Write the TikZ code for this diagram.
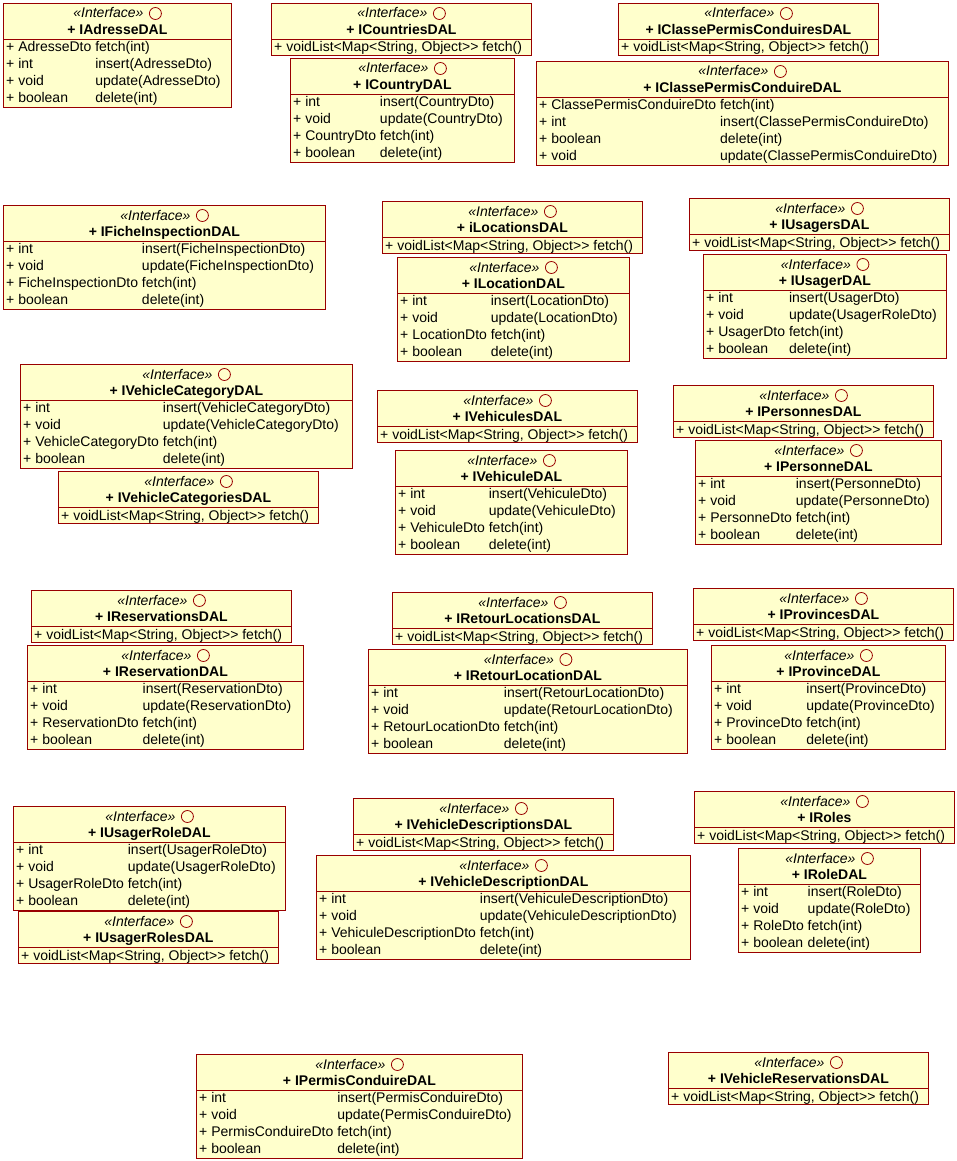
\documentclass[tikz,border=0pt]{standalone}
\usepackage{fontspec}
\setmainfont{Liberation Sans}
\usetikzlibrary{positioning, calc}
\definecolor{umlfill}{RGB}{255,255,204}
\definecolor{umlline}{RGB}{153,0,0}
\newcommand{\umlfont}{\fontsize{14}{17}\selectfont}

% box with header: name, x, y, width, height, title
\newcommand{\umlbox}[6]{%
  \node[box, minimum width=#4, minimum height=#5] (#1) at (#2,#3) {};
  \node[stereo] (#1-st) at ($(#1.north)+(-9,15)$) {«Interface»};
  \draw[ring] ($(#1.north)+(38,10.5)$) circle (6);
  \node[title] (#1-t) at ($(#1.north)+(0,31.5)$) {+ #6};
  \draw[sep] ($(#1.north west)+(0,36)$) -- ($(#1.north east)+(0,36)$);
}
% interface with the four crud methods
\newcommand{\dalbox}[6]{%
  \umlbox{#1}{#2}{#3}{#4}{104}{#5}
  \node[members] (#1-m) at ($(#1.north west)+(3,36.5)$)
    {\begin{tabular}{@{}l@{\ }l@{}}#6\end{tabular}};
}
% interface with only the list fetch
\newcommand{\listbox}[4]{%
  \umlbox{#1}{#2}{#3}{260}{52}{#4}
  \node[members, anchor=base west] (#1-m) at ($(#1.north west)+(3,49)$)
    {+ voidList<Map<String, Object>\kern0pt> fetch()};
}

\begin{document}
\begin{tikzpicture}[x=1pt, y=-1pt,
    box/.style={draw=umlline, fill=umlfill, line width=0.8pt, anchor=north west, inner sep=0},
    stereo/.style={font=\umlfont\itshape, inner sep=0, anchor=base},
    title/.style={font=\umlfont\bfseries, inner sep=0, anchor=base},
    members/.style={font=\umlfont, inner sep=0, anchor=north west, align=left},
    ring/.style={draw=umlline, line width=0.8pt},
    sep/.style={draw=umlline, line width=0.8pt}
]
    \fill[white] (0,0) rectangle (957,1161);
    \useasboundingbox (0,0) rectangle (957,1161);

    % first row
    \dalbox{adresse}{3}{3}{228}{IAdresseDAL}{%
      + AdresseDto & fetch(int)\\ + int & insert(AdresseDto)\\
      + void & update(AdresseDto)\\ + boolean & delete(int)}
    \listbox{countries}{271}{3}{ICountriesDAL}
    \dalbox{country}{290}{58}{224}{ICountryDAL}{%
      + int & insert(CountryDto)\\ + void & update(CountryDto)\\
      + CountryDto & fetch(int)\\ + boolean & delete(int)}
    \listbox{classes}{618}{3}{IClassePermisConduiresDAL}
    \dalbox{classe}{536}{61}{412}{IClassePermisConduireDAL}{%
      + ClassePermisConduireDto & fetch(int)\\ + int & insert(ClassePermisConduireDto)\\
      + boolean & delete(int)\\ + void & update(ClassePermisConduireDto)}

    % second row
    \dalbox{fiche}{3}{205}{322}{IFicheInspectionDAL}{%
      + int & insert(FicheInspectionDto)\\ + void & update(FicheInspectionDto)\\
      + FicheInspectionDto & fetch(int)\\ + boolean & delete(int)}
    \listbox{locations}{382}{201}{iLocationsDAL}
    \dalbox{location}{397}{257}{232}{ILocationDAL}{%
      + int & insert(LocationDto)\\ + void & update(LocationDto)\\
      + LocationDto & fetch(int)\\ + boolean & delete(int)}
    \listbox{usagers}{689}{198}{IUsagersDAL}
    \dalbox{usager}{703}{254}{243}{IUsagerDAL}{%
      + int & insert(UsagerDto)\\ + void & update(UsagerRoleDto)\\
      + UsagerDto & fetch(int)\\ + boolean & delete(int)}

    % third row
    \dalbox{category}{20}{364}{332}{IVehicleCategoryDAL}{%
      + int & insert(VehicleCategoryDto)\\ + void & update(VehicleCategoryDto)\\
      + VehicleCategoryDto & fetch(int)\\ + boolean & delete(int)}
    \listbox{categories}{58}{471}{IVehicleCategoriesDAL}
    \listbox{vehicules}{377}{390}{IVehiculesDAL}
    \dalbox{vehicule}{395}{450}{232}{IVehiculeDAL}{%
      + int & insert(VehiculeDto)\\ + void & update(VehiculeDto)\\
      + VehiculeDto & fetch(int)\\ + boolean & delete(int)}
    \listbox{personnes}{673}{385}{IPersonnesDAL}
    \dalbox{personne}{695}{440}{246}{IPersonneDAL}{%
      + int & insert(PersonneDto)\\ + void & update(PersonneDto)\\
      + PersonneDto & fetch(int)\\ + boolean & delete(int)}

    % fourth row
    \listbox{reservations}{31}{590}{IReservationsDAL}
    \dalbox{reservation}{27}{645}{276}{IReservationDAL}{%
      + int & insert(ReservationDto)\\ + void & update(ReservationDto)\\
      + ReservationDto & fetch(int)\\ + boolean & delete(int)}
    \listbox{retours}{392}{592}{IRetourLocationsDAL}
    \dalbox{retour}{368}{649}{319}{IRetourLocationDAL}{%
      + int & insert(RetourLocationDto)\\ + void & update(RetourLocationDto)\\
      + RetourLocationDto & fetch(int)\\ + boolean & delete(int)}
    \listbox{provinces}{693}{588}{IProvincesDAL}
    \dalbox{province}{711}{645}{234}{IProvinceDAL}{%
      + int & insert(ProvinceDto)\\ + void & update(ProvinceDto)\\
      + ProvinceDto & fetch(int)\\ + boolean & delete(int)}

    % fifth row
    \dalbox{usagerrole}{13}{806}{272}{IUsagerRoleDAL}{%
      + int & insert(UsagerRoleDto)\\ + void & update(UsagerRoleDto)\\
      + UsagerRoleDto & fetch(int)\\ + boolean & delete(int)}
    \listbox{usagerroles}{18}{911}{IUsagerRolesDAL}
    \listbox{descriptions}{353}{798}{IVehicleDescriptionsDAL}
    \dalbox{description}{316}{855}{374}{IVehicleDescriptionDAL}{%
      + int & insert(VehiculeDescriptionDto)\\ + void & update(VehiculeDescriptionDto)\\
      + VehiculeDescriptionDto & fetch(int)\\ + boolean & delete(int)}
    \listbox{roles}{694}{791}{IRoles}
    \dalbox{role}{738}{848}{182}{IRoleDAL}{%
      + int & insert(RoleDto)\\ + void & update(RoleDto)\\
      + RoleDto & fetch(int)\\ + boolean & delete(int)}

    % last row
    \dalbox{permis}{196}{1054}{326}{IPermisConduireDAL}{%
      + int & insert(PermisConduireDto)\\ + void & update(PermisConduireDto)\\
      + PermisConduireDto & fetch(int)\\ + boolean & delete(int)}
    \listbox{vreservations}{668}{1052}{IVehicleReservationsDAL}
\end{tikzpicture}
\end{document}
